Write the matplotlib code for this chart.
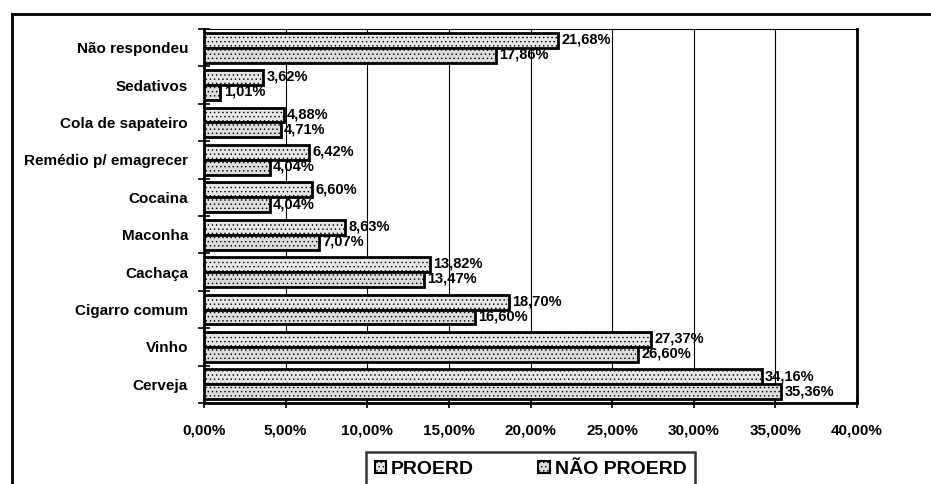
"""Uso de drogas: PROERD x NÃO PROERD (barras horizontais)."""

import matplotlib
matplotlib.use("Agg")
import matplotlib.pyplot as plt
import numpy as np
from matplotlib.lines import Line2D
from matplotlib.patches import Patch

categories = ["Não respondeu", "Sedativos", "Cola de sapateiro", "Remédio p/ emagrecer",
              "Cocaina", "Maconha", "Cachaça", "Cigarro comum", "Vinho", "Cerveja"]
proerd = [21.68, 3.62, 4.88, 6.42, 6.60, 8.63, 13.82, 18.70, 27.37, 34.16]
nao_proerd = [17.86, 1.01, 4.71, 4.04, 4.04, 7.07, 13.47, 16.60, 26.60, 35.36]
series_names = ["PROERD", "NÃO PROERD"]
x_ticks = [0, 5, 10, 15, 20, 25, 30, 35, 40]

plt.rcParams["font.family"] = ["Liberation Sans", "DejaVu Sans"]
plt.rcParams["font.weight"] = "bold"
plt.rcParams["hatch.color"] = "#b4b4b4"
plt.rcParams["hatch.linewidth"] = 0.5

fig = plt.figure(figsize=(9.31, 4.84), dpi=100)
ax = fig.add_axes([204 / 931, 1 - 403 / 484, (857 - 204) / 931, (403 - 29) / 484])

# Cerveja at bottom, Não respondeu at top
n = len(categories)
pos = np.arange(n)[::-1].astype(float)
h = 0.4

ax.barh(pos + h / 2, proerd, height=h, color="#e6e6e6", edgecolor="black",
        linewidth=2, hatch="....", zorder=3)
ax.barh(pos - h / 2, nao_proerd, height=h, color="#dcdcdc", edgecolor="black",
        linewidth=2, hatch="....", zorder=3)


def pct(v):
    return f"{v:.2f}%".replace(".", ",")


for y, v in zip(pos + h / 2, proerd):
    ax.text(v + 0.2, y + 0.02, pct(v), va="center", ha="left",
            fontsize=10.5, fontweight="bold", zorder=4)
for y, v in zip(pos - h / 2, nao_proerd):
    ax.text(v + 0.2, y + 0.02, pct(v), va="center", ha="left",
            fontsize=10.5, fontweight="bold", zorder=4)

ax.set_xlim(0, 40)
ax.set_ylim(-0.5, n - 0.5)
ax.set_xticks(x_ticks)
ax.set_xticklabels([pct(t) for t in x_ticks], fontsize=11, fontweight="bold")
ax.tick_params(axis="x", direction="inout", length=7, width=1.2, pad=11)

# category labels centred in slot, ticks on slot boundaries
ax.set_yticks(pos)
ax.set_yticklabels(categories, fontsize=11, fontweight="bold")
ax.tick_params(axis="y", length=0, pad=11.5)
ax.set_yticks(np.arange(n + 1) - 0.5, minor=True)
ax.tick_params(axis="y", which="minor", direction="inout", length=8, width=1.2)

ax.grid(axis="x", color="black", linewidth=0.8, zorder=0)
for side in ["left", "bottom", "right"]:
    ax.spines[side].set_linewidth(2)
ax.spines["top"].set_linewidth(0.8)

# outer frame (top and left edges of the scanned chart area)
fig.add_artist(Line2D([12 / 931, 1], [1 - 14 / 484, 1 - 14 / 484],
                      transform=fig.transFigure, color="black", linewidth=2))
fig.add_artist(Line2D([12 / 931, 12 / 931], [0, 1 - 14 / 484],
                      transform=fig.transFigure, color="black", linewidth=2))

handles = [Patch(facecolor="#e6e6e6", edgecolor="black", hatch="....", linewidth=1.5),
           Patch(facecolor="#dcdcdc", edgecolor="black", hatch="....", linewidth=1.5)]
leg = fig.legend(handles, series_names, loc="upper center",
                 bbox_to_anchor=(530.5 / 931, 1 - 452 / 484), ncol=2, frameon=True,
                 fancybox=False, handlelength=0.6, handleheight=0.6,
                 handletextpad=0.25, columnspacing=3.3, borderpad=0.45,
                 borderaxespad=0.0, prop={"weight": "bold", "size": 14})
leg.get_frame().set_edgecolor("black")
leg.get_frame().set_linewidth(1.8)

fig.savefig("out.png", dpi=100)
